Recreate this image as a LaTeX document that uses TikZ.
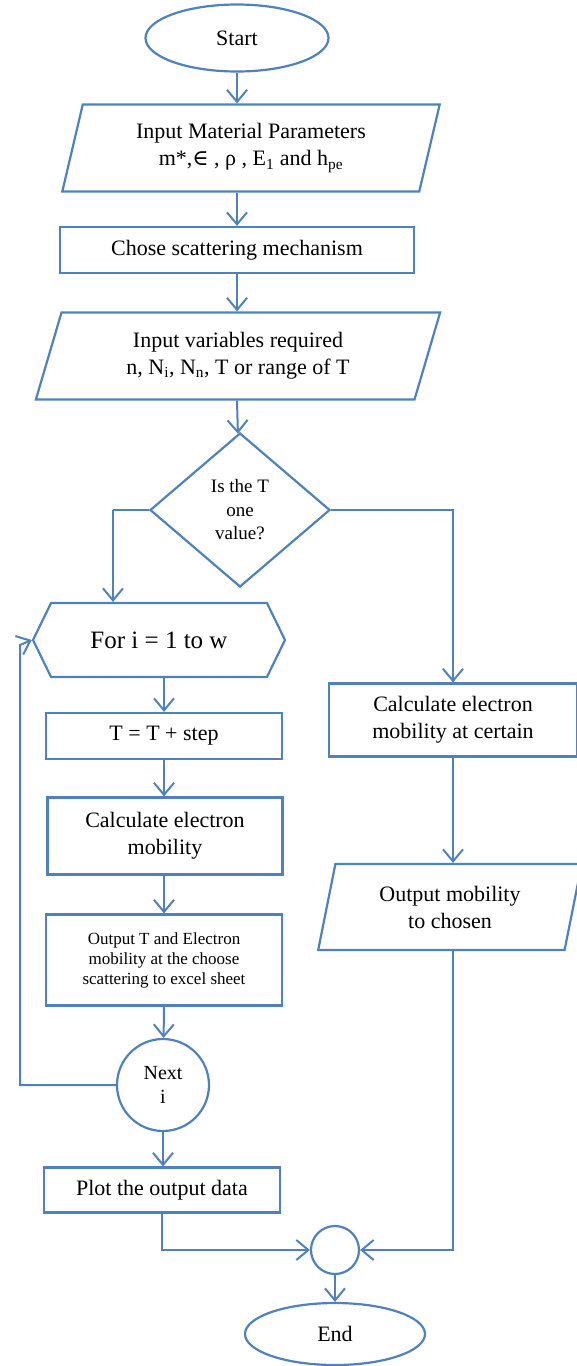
\documentclass[tikz,border=0pt]{standalone}
\usepackage{fontspec}
\setmainfont{Liberation Serif}
\newfontfamily\symbfont{DejaVu Serif}
\usepackage{xcolor}
\usepackage{tikz}
\usetikzlibrary{positioning,arrows.meta,shapes.geometric,shapes.symbols,calc}
\definecolor{flowblue}{RGB}{79,129,189}

\begin{document}
\begin{tikzpicture}[x=1pt, y=-1pt,
    box/.style={draw=flowblue, line width=2.2pt, rectangle, align=center, inner sep=0pt, font=\fontsize{22}{27}\selectfont},
    io/.style={draw=flowblue, line width=2.2pt, trapezium, trapezium left angle=74, trapezium right angle=106, trapezium stretches=true, align=center, inner sep=0pt, font=\fontsize{22}{27}\selectfont},
    terminal/.style={draw=flowblue, line width=2.2pt, ellipse, inner sep=0pt, font=\fontsize{22}{27}\selectfont},
    decision/.style={draw=flowblue, line width=2.2pt, diamond, align=center, inner sep=0pt, font=\fontsize{19}{23.5}\selectfont},
    loopbox/.style={draw=flowblue, line width=2.2pt, signal, signal to=west and east, signal pointer angle=128, inner sep=0pt, font=\fontsize{25}{30}\selectfont},
    joint/.style={draw=flowblue, line width=2.2pt, circle, align=center, inner sep=0pt, font=\fontsize{20}{24}\selectfont},
    arrow/.style={-{Straight Barb[length=12pt, width=20pt]}, line width=2pt, flowblue},
    line/.style={line width=2pt, flowblue}
]
\useasboundingbox (0,0) rectangle (577,1366);

% Main column
\node[terminal, minimum width=183pt, minimum height=67pt] (start) at (237,38) {Start};
\node[io, minimum width=378pt, minimum height=87pt] (params) at (251,148) {Input Material Parameters\\m*,{\symbfont ∈} , ρ , E\textsubscript{1} and h\textsubscript{pe}};
\node[box, minimum width=354pt, minimum height=46pt] (mech) at (237,250) {Chose scattering mechanism};
\node[io, trapezium left angle=71, trapezium right angle=109, minimum width=405pt, minimum height=87pt] (vars) at (238,356) {Input variables required\\n, N\textsubscript{i}, N\textsubscript{n}, T or range of T};
\node[decision, minimum width=180pt, minimum height=154pt] (onevalue) at (240,510) {Is the T\\one\\value?};

% Loop branch
\node[loopbox, minimum width=252pt, minimum height=74pt] (forloop) at (159,640) {For i = 1 to w};
\node[box, minimum width=236pt, minimum height=46pt] (tstep) at (164,736) {T = T + step};
\node[box, minimum width=235pt, minimum height=77pt] (calcmob) at (165,836) {Calculate electron\\mobility};
\node[box, minimum width=236pt, minimum height=91pt, font=\fontsize{17}{20}\selectfont] (outexcel) at (164,960) {Output T and Electron\\mobility at the choose\\scattering to excel sheet};
\node[joint, minimum size=92pt] (nexti) at (163,1085) {Next\\i};
\node[box, minimum width=236pt, minimum height=45pt] (plot) at (162,1190) {Plot the output data};

% Single value branch
\node[box, minimum width=248pt, minimum height=73pt] (calccert) at (453,720) {Calculate electron\\mobility at certain};
\node[io, trapezium left angle=76, trapezium right angle=104, minimum width=264pt, minimum height=86pt] (outmob) at (450,907) {Output mobility\\to chosen};

% End
\node[joint, minimum size=48pt] (merge) at (335,1250) {};
\node[terminal, minimum width=180pt, minimum height=62pt] (finish) at (335,1334) {End};

\coordinate (leftturn) at (113,510);
\coordinate (loopup) at (20,645);

% Arrows
\draw[arrow] (start) -- (start |- params.north);
\draw[arrow] (start |- params.south) -- (mech);
\draw[arrow] (mech) -- (mech |- vars.north);
\draw[arrow] (mech |- vars.south) -- (onevalue);
\draw[line] (onevalue.west) -- (leftturn);
\draw[arrow] (leftturn) -- (leftturn |- forloop.north);
\draw[arrow] (onevalue.east) -| (calccert.north);
\draw[arrow] (tstep |- forloop.south) -- (tstep);
\draw[arrow] (tstep) -- (tstep |- calcmob.north);
\draw[arrow] (tstep |- calcmob.south) -- (tstep |- outexcel.north);
\draw[arrow] (tstep |- outexcel.south) -- (nexti);
\draw[arrow] (nexti) -- (nexti |- plot.north);
\draw[arrow] (nexti.west) -| (loopup) -- (forloop.west);
\draw[arrow] (calccert) -- (calccert |- outmob.north);
\draw[arrow] (plot.south) |- (merge.west);
\draw[arrow] (calccert |- outmob.south) |- (merge.east);
\draw[arrow] (merge) -- (finish);

\end{tikzpicture}
\end{document}
